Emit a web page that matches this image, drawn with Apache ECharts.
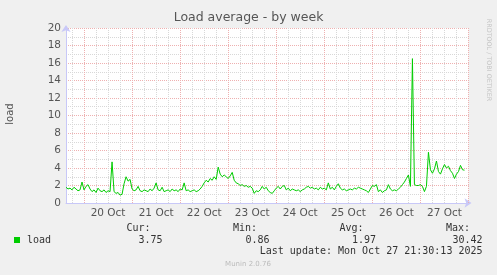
<!DOCTYPE html>
<html><head><meta charset="utf-8">
<script src="https://cdn.jsdelivr.net/npm/echarts@6/dist/echarts.min.js"></script>
<style>html,body{margin:0;padding:0;background:#f0f0f0;}#c{width:497px;height:275px;}</style>
</head><body><div id="c"></div>
<script>
const chartTitle = 'Load average - by week';
const yAxisName = 'load';
const dayLabels = ['20 Oct', '21 Oct', '22 Oct', '23 Oct', '24 Oct', '25 Oct', '26 Oct', '27 Oct'];
const yTickLabels = [0, 2, 4, 6, 8, 10, 12, 14, 16, 18, 20];
// hours relative to 20 Oct 00:00, one value per hour
const startHour = -9;
const stepHours = 1;
const loadValues = [
  1.8, 1.6, 1.7, 1.5, 1.8, 1.6, 1.4, 1.5, 2.4, 1.5,
  1.9, 2.1, 1.6, 1.3, 1.5, 1.2, 1.7, 1.4, 1.3, 1.5,
  1.2, 1.4, 1.3, 4.7, 1.3, 1.1, 1.2, 0.9, 1.0, 2.2,
  3.0, 2.5, 2.7, 1.6, 1.4, 1.5, 1.9, 1.4, 1.3, 1.5,
  1.4, 1.3, 1.6, 1.4, 1.7, 2.3, 1.5, 1.4, 1.8, 1.3,
  1.4, 1.5, 1.3, 1.6, 1.4, 1.5, 1.3, 1.6, 1.5, 2.3,
  1.4, 1.5, 1.3, 1.4, 1.5, 1.3, 1.4, 1.6, 1.9, 2.3,
  2.6, 2.4, 2.8, 2.6, 3.0, 2.7, 4.1, 3.3, 3.0, 3.2,
  3.0, 2.8, 3.1, 3.5, 2.6, 2.3, 2.2, 2.0, 2.1, 1.9,
  2.0, 1.8, 1.9, 1.7, 1.1, 1.4, 1.3, 1.5, 1.9, 1.6,
  1.8, 1.4, 1.2, 1.1, 1.4, 1.7, 1.9, 1.6, 1.9, 2.0,
  1.5, 1.7, 1.4, 1.6, 1.5, 1.4, 1.5, 1.3, 1.5, 1.6,
  1.8, 1.9, 1.7, 1.8, 1.6, 1.7, 1.5, 1.8, 1.6, 1.7,
  1.5, 2.3, 1.6, 1.8, 1.5, 1.9, 2.2, 1.7, 1.5, 1.6,
  1.4, 1.5, 1.6, 1.5, 1.7, 1.6, 1.8, 1.7, 1.6, 1.5,
  1.4, 1.2, 1.6, 2.0, 1.9, 2.1, 1.3, 1.5, 1.2, 1.4,
  1.5, 2.1, 1.6, 1.4, 1.5, 1.4, 1.6, 1.8, 2.1, 2.4,
  2.8, 3.2, 1.9, 16.5, 2.1, 2.0, 2.0, 2.1, 1.9, 1.3,
  1.9, 5.8, 3.8, 3.4, 3.9, 4.8, 3.6, 3.3, 3.9, 4.4,
  4.0, 4.2, 3.7, 3.4, 2.8, 3.3, 3.6, 4.3, 3.8, 3.75
];
const seriesName = 'load';
const statLabels = ['Cur:', 'Min:', 'Avg:', 'Max:'];
const statValues = ['3.75', '0.86', '1.97', '30.42'];
const lastUpdate = 'Last update: Mon Oct 27 21:30:13 2025';
const footerText = 'Munin 2.0.76';
const watermarkText = 'RRDTOOL / TOBI OETIKER';

const X_MIN = -9, X_MAX = 192;
const RED = '#eeb0b0', GREY = '#d8d8d8', AXIS = '#c8c8f8', TXT = '#555555';
const seriesData = loadValues.map((v, i) => [startHour + i * stepHours, v]);

// vertical grid: major at each midnight, minor every 6 hours
const majorV = [], minorV = [];
for (let h = -6; h <= X_MAX; h += 6) { if (h % 24 === 0) majorV.push(h); else minorV.push(h); }

const chart = echarts.init(document.getElementById('c'), null, {renderer: 'canvas'});
const mono = '"DejaVu Sans Mono", monospace';
const sans = '"DejaVu Sans", sans-serif';
const statLabelRight = [150.5, 257, 363.5, 470];
const statValueRight = [162.5, 269.5, 376, 482.5];
const graphics = [
  {type: 'text', x: 248.5, y: 18, style: {text: chartTitle, fontSize: 12.5, fontFamily: sans, fill: TXT, align: 'center', verticalAlign: 'middle'}},
  {type: 'text', x: 10, y: 114, rotation: Math.PI / 2, style: {text: yAxisName, fontSize: 10, fontFamily: sans, fill: TXT, align: 'center', verticalAlign: 'middle'}},
  {type: 'text', x: 488.5, y: 60, rotation: -Math.PI / 2, style: {text: watermarkText, fontSize: 6.4, fontFamily: sans, fill: '#c4c4c4', align: 'center', verticalAlign: 'middle'}},
  {type: 'rect', shape: {x: 14, y: 237, width: 6, height: 6}, style: {fill: '#00cc00'}},
  {type: 'text', x: 27, y: 240, style: {text: seriesName, fontSize: 10, fontFamily: mono, fill: '#333', align: 'left', verticalAlign: 'middle'}},
  {type: 'text', x: 482.5, y: 251.5, style: {text: lastUpdate, fontSize: 10, fontFamily: mono, fill: '#333', align: 'right', verticalAlign: 'middle'}},
  {type: 'text', x: 248, y: 264.5, style: {text: footerText, fontSize: 7, fontFamily: sans, fill: '#bbbbbb', align: 'center', verticalAlign: 'middle'}}
];
statLabels.forEach((s, k) => {
  graphics.push({type: 'text', x: statLabelRight[k], y: 228, style: {text: s, fontSize: 10, fontFamily: mono, fill: '#333', align: 'right', verticalAlign: 'middle'}});
  graphics.push({type: 'text', x: statValueRight[k], y: 240, style: {text: statValues[k], fontSize: 10, fontFamily: mono, fill: '#333', align: 'right', verticalAlign: 'middle'}});
});

const gridLineSeries = (values, color) => ({
  type: 'line', data: [], silent: true, z: 1,
  markLine: {
    silent: true, symbol: ['none', 'none'], animation: false, label: {show: false},
    lineStyle: {type: [1, 1], width: 1, color: color},
    emphasis: {disabled: true},
    data: values.map(h => ({xAxis: h}))
  }
});

chart.setOption({
  animation: false,
  backgroundColor: '#f0f0f0',
  grid: {left: 66, right: 28.5, top: 28, bottom: 72, show: true, backgroundColor: '#ffffff', borderWidth: 0, containLabel: false, outerBoundsMode: 'none'},
  xAxis: {
    type: 'value', min: X_MIN, max: X_MAX, interval: 3,
    axisLine: {show: true, onZero: false, lineStyle: {color: AXIS, width: 1}, symbol: ['none', 'arrow'], symbolSize: [7, 7], symbolOffset: [0, 3]},
    axisTick: {show: false},
    axisLabel: {
      margin: 5, fontSize: 10.5, fontFamily: sans, color: TXT, showMinLabel: true, showMaxLabel: true,
      formatter: v => { const d = (v - 12) / 24; return (Number.isInteger(d) && d >= 0 && d < dayLabels.length) ? dayLabels[d] : ''; }
    },
    splitLine: {show: false}
  },
  yAxis: [{
    type: 'value', min: 0, max: 20, interval: 1,
    axisLine: {show: true, onZero: false, lineStyle: {color: AXIS, width: 1}, symbol: ['none', 'arrow'], symbolSize: [7, 7], symbolOffset: [0, 3]},
    axisTick: {show: false},
    axisLabel: {margin: 5, fontSize: 10.5, fontFamily: sans, color: TXT, formatter: v => yTickLabels.includes(v) ? String(v) : ''},
    splitLine: {show: true, lineStyle: {type: [1, 1], width: 1, color: GREY}}
  }, {
    type: 'value', min: 0, max: 20, interval: 2, position: 'right',
    axisLine: {show: false}, axisTick: {show: false}, axisLabel: {show: false},
    splitLine: {show: true, lineStyle: {type: [1, 1], width: 1, color: RED}}
  }],
  series: [
    gridLineSeries(minorV, GREY),
    gridLineSeries(majorV, RED),
    {
      name: seriesName, type: 'line', data: seriesData, showSymbol: false, symbol: 'none',
      lineStyle: {color: '#00cc00', width: 1}, itemStyle: {color: '#00cc00'}, silent: true, z: 5
    }
  ],
  graphic: graphics
});
</script></body></html>
